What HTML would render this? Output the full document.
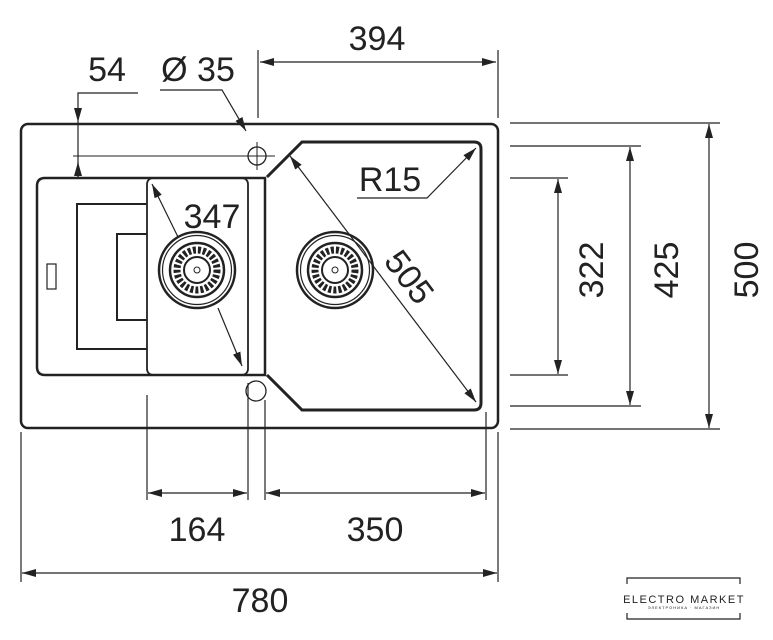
<!DOCTYPE html>
<html><head><style>
html,body{margin:0;padding:0;background:#fff;}
svg{display:block;}
text{font-family:"Liberation Sans",Arial,sans-serif;fill:#222;}
</style></head><body>
<svg width="773" height="640" viewBox="0 0 773 640" xmlns="http://www.w3.org/2000/svg">
<defs>
<marker id="a" viewBox="0 0 14 8" refX="14" refY="4" markerWidth="14" markerHeight="8" markerUnits="userSpaceOnUse" orient="auto-start-reverse">
<path d="M0,0 L14,4 L0,8 Z" fill="#222"/></marker>
</defs>
<g fill="none" stroke="#222">
<rect x="21" y="124" width="477" height="304" rx="7" stroke-width="2.5"/>
<path d="M248,178 L45,178 Q37,178 37,186 L37,367 Q37,375 45,375 L248,375" stroke-width="2.5"/>
<path d="M248,178 L265,178 L265,375 L248,375" stroke-width="2.5"/>
<rect x="147" y="178" width="101" height="197" rx="6" stroke-width="1.8"/>
<path d="M147,204 L77,204 L77,349 L147,349" stroke-width="2"/>
<path d="M147,234 L117,234 L117,320 L147,320" stroke-width="2"/>
<rect x="47" y="264" width="9" height="25" stroke-width="1.2"/>
<path d="M267,177 L302,142 L474,142 Q481,142 481,149 L481,403 Q481,410 474,410 L302,410 L267,375" stroke-width="3"/>
<circle cx="257" cy="156" r="9" stroke-width="1.3"/>
<line x1="245" y1="156" x2="275" y2="156" stroke-width="1"/>
<line x1="257" y1="142" x2="257" y2="170" stroke-width="1"/>
<circle cx="256" cy="391" r="10" stroke-width="1.3"/>
<line x1="73" y1="156" x2="245" y2="156" stroke-width="1"/>
<g stroke-width="2">
<circle cx="197" cy="270" r="38" stroke-width="2.5"/><circle cx="197" cy="270" r="34.5" stroke-width="1.2"/>
<circle cx="197" cy="270" r="27" stroke-width="2.5"/><circle cx="197" cy="270" r="20" stroke-width="7" stroke-dasharray="3 2"/>
<circle cx="197" cy="270" r="13"/><circle cx="197" cy="270" r="3" stroke-width="1"/>
<circle cx="335" cy="270" r="38" stroke-width="2.5"/><circle cx="335" cy="270" r="34.5" stroke-width="1.2"/>
<circle cx="335" cy="270" r="27" stroke-width="2.5"/><circle cx="335" cy="270" r="20" stroke-width="7" stroke-dasharray="3 2"/>
<circle cx="335" cy="270" r="13"/><circle cx="335" cy="270" r="3" stroke-width="1"/>
</g>
<g stroke-width="1.2">
<line x1="258" y1="50" x2="258" y2="118"/><line x1="498" y1="50" x2="498" y2="118"/>
<line x1="260" y1="62" x2="496" y2="62" marker-start="url(#a)" marker-end="url(#a)"/>
<path d="M138,93 L78,93 L78,122" marker-end="url(#a)"/>
<line x1="78" y1="122" x2="78" y2="178"/>
<line x1="78" y1="178" x2="78" y2="162" marker-end="url(#a)"/>
<path d="M160,90 L222,90 L246,131" marker-end="url(#a)"/>
<line x1="152" y1="184" x2="178" y2="237" marker-start="url(#a)"/>
<line x1="218" y1="308" x2="242" y2="366" marker-end="url(#a)"/>
<line x1="290" y1="156" x2="476" y2="402" marker-start="url(#a)" marker-end="url(#a)"/>
<path d="M357,198 L427,198 L476,148" marker-end="url(#a)"/>
<line x1="510" y1="123" x2="720" y2="123"/><line x1="510" y1="429" x2="720" y2="429"/>
<line x1="510" y1="146" x2="641" y2="146"/><line x1="510" y1="406" x2="641" y2="406"/>
<line x1="510" y1="178" x2="568" y2="178"/><line x1="510" y1="375" x2="568" y2="375"/>
<line x1="709" y1="124" x2="709" y2="428" marker-start="url(#a)" marker-end="url(#a)"/>
<line x1="630" y1="147" x2="630" y2="405" marker-start="url(#a)" marker-end="url(#a)"/>
<line x1="558" y1="179" x2="558" y2="374" marker-start="url(#a)" marker-end="url(#a)"/>
<line x1="147" y1="395" x2="147" y2="500"/><line x1="248" y1="383" x2="248" y2="500"/>
<line x1="265" y1="400" x2="265" y2="500"/><line x1="486" y1="412" x2="486" y2="500"/>
<line x1="148" y1="493" x2="247" y2="493" marker-start="url(#a)" marker-end="url(#a)"/>
<line x1="266" y1="493" x2="485" y2="493" marker-start="url(#a)" marker-end="url(#a)"/>
<line x1="21" y1="432" x2="21" y2="582"/><line x1="498" y1="432" x2="498" y2="582"/>
<line x1="22" y1="573" x2="497" y2="573" marker-start="url(#a)" marker-end="url(#a)"/>
</g>
</g>
<g font-size="34" text-anchor="middle">
<text x="377" y="50">394</text>
<text x="107" y="81">54</text>
<text x="198" y="81">Ø 35</text>
<text x="212" y="228">347</text>
<text x="390" y="191">R15</text>
<text transform="translate(400,284) rotate(53)">505</text>
<text transform="translate(603,270) rotate(-90)">322</text>
<text transform="translate(678,270) rotate(-90)">425</text>
<text transform="translate(758,270) rotate(-90)">500</text>
<text x="197" y="541">164</text>
<text x="375" y="541">350</text>
<text x="260" y="612">780</text>
</g>
<g stroke="#222" stroke-width="1.2" fill="none">
<path d="M627,584 L627,578 L740,578 L740,584"/>
<path d="M627,613 L627,619 L740,619 L740,613"/>
</g>
<text x="684" y="603" font-size="11" text-anchor="middle" letter-spacing="1.5">ELECTRO MARKET</text>
<text x="684" y="609" font-size="4" text-anchor="middle" letter-spacing="1">ЭЛЕКТРОНИКА · МАГАЗИН</text>
</svg>
</body></html>
